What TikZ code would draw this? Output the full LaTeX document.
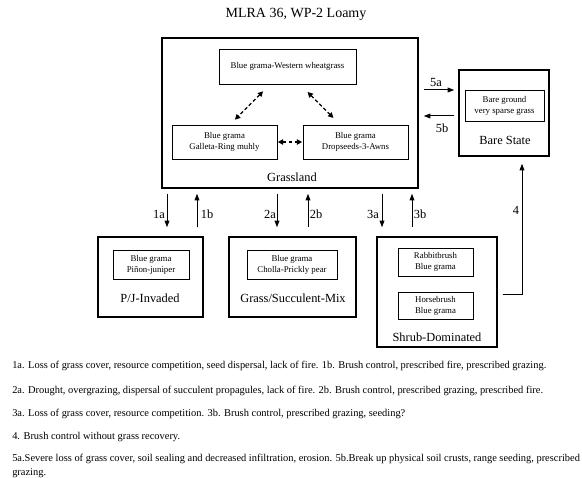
\documentclass[tikz,border=0pt]{standalone}
\usepackage{fontspec}
\setmainfont{Liberation Serif}
\usetikzlibrary{arrows.meta,calc}

\begin{document}
\begin{tikzpicture}[x=0.75pt,y=-0.75pt,
  statebox/.style 2 args={draw, line width=1.1pt, minimum width=#1*0.75pt,
    minimum height=#2*0.75pt, inner sep=0pt},
  innerbox/.style 2 args={draw, line width=0.6pt, minimum width=#1*0.75pt,
    minimum height=#2*0.75pt, inner sep=0pt, align=center,
    font=\fontsize{6.6}{8.3}\selectfont},
  statelabel/.style={inner sep=0pt, font=\fontsize{9.3}{11}\selectfont},
  arrowlabel/.style={inner sep=0pt, font=\fontsize{9.3}{11}\selectfont},
  trans/.style={line width=0.75pt, -{Triangle[length=5pt,width=3.6pt]}},
  dtrans/.style={line width=0.9pt, dash pattern=on 2.6pt off 1.8pt,
    {Triangle[length=4pt,width=4pt]}-{Triangle[length=4pt,width=4pt]}},
  notetext/.style={anchor=west, inner sep=0pt, align=left,
    font=\fontsize{7.82}{10.5}\selectfont}]

\useasboundingbox (0,0) rectangle (582,478);

% title
\node[font=\fontsize{10.5}{12}\selectfont] (title) at (296,14) {MLRA 36, WP-2 Loamy};

% Grassland state with its three communities
\node[statebox={256}{150}] (G) at (290,113) {};
\node[statelabel] (Glab) at (292,177) {Grassland};
\node[innerbox={137}{35}] (T) at (287.5,66.5) {Blue grama-Western wheatgrass};
\node[innerbox={105}{34}] (L) at (224.5,142) {Blue grama\\Galleta-Ring muhly};
\node[innerbox={105}{34}] (R) at (355.5,142) {Blue grama\\Dropseeds-3-Awns};

\draw[dtrans, shorten <=7.3pt, shorten >=5.2pt]
  ($(T.south)+(-17.5,0)$) -- ($(L.north)+(5.5,0)$);
\draw[dtrans, shorten <=8pt, shorten >=7pt]
  ($(T.south)+(12.5,0)$) -- ($(R.north)+(-15.5,0)$);
\draw[dtrans, shorten <=0.3pt, shorten >=0.3pt] (L.east) -- (R.west);

% Bare State
\node[statebox={90}{86}] (B) at (504,113) {};
\node[innerbox={79}{31}] (BI) at (504.5,105.5) {Bare ground\\very sparse grass};
\node[statelabel] (Blab) at (505,140) {Bare State};

% lower states
\node[statebox={105}{80}] (PJ) at (150.5,277) {};
\node[innerbox={76}{29}] (PJI) at (151,264.5) {Blue grama\\Piñon-juniper};
\node[statelabel] (PJlab) at (150,298) {P/J-Invaded};

\node[statebox={127}{80}] (GS) at (292.5,277) {};
\node[innerbox={90}{29}] (GSI) at (292,264.5) {Blue grama\\Cholla-Prickly pear};
\node[statelabel] (GSlab) at (293,298) {Grass/Succulent-Mix};

\node[statebox={120}{110}] (SD) at (437,292) {};
\node[innerbox={75}{28}] (SD1) at (435.5,262) {Rabbitbrush\\Blue grama};
\node[innerbox={75}{27}] (SD2) at (435.5,305.5) {Horsebrush\\Blue grama};
\node[statelabel] (SDlab) at (437,337) {Shrub-Dominated};

% columns and rows of the transition arrows
\coordinate (x1a) at (167,0);
\coordinate (x1b) at (197,0);
\coordinate (x2a) at (277,0);
\coordinate (x2b) at (308,0);
\coordinate (x3a) at (382,0);
\coordinate (x3b) at (412,0);
\coordinate (x4) at (522,0);
\coordinate (y5a) at (0,90);
\coordinate (y5b) at (0,116);
\coordinate (y4) at (0,294);

\draw[trans, shorten <=3.75pt, shorten >=6.75pt] (G.south -| x1a) -- (PJ.north -| x1a);
\draw[trans, shorten <=6.75pt, shorten >=3.75pt] (PJ.north -| x1b) -- (G.south -| x1b);
\draw[trans, shorten <=3.75pt, shorten >=6.75pt] (G.south -| x2a) -- (GS.north -| x2a);
\draw[trans, shorten <=6.75pt, shorten >=3.75pt] (GS.north -| x2b) -- (G.south -| x2b);
\draw[trans, shorten <=3.75pt, shorten >=6.75pt] (G.south -| x3a) -- (SD.north -| x3a);
\draw[trans, shorten <=6.75pt, shorten >=3.75pt] (SD.north -| x3b) -- (G.south -| x3b);

\draw[trans, shorten <=3.75pt, shorten >=3pt] (G.east |- y5a) -- (B.west |- y5a);
\draw[trans, shorten <=3pt, shorten >=3.75pt] (B.west |- y5b) -- (G.east |- y5b);

\draw[trans, shorten <=3.75pt, shorten >=5.25pt] (SD.east |- y4) -| (B.south -| x4);

\node[arrowlabel] (l1a) at (159,214) {1a};
\node[arrowlabel] (l1b) at (207,214) {1b};
\node[arrowlabel] (l2a) at (270,214) {2a};
\node[arrowlabel] (l2b) at (316,214) {2b};
\node[arrowlabel] (l3a) at (373,214) {3a};
\node[arrowlabel] (l3b) at (420,214) {3b};
\node[arrowlabel] (l5a) at (436,83) {5a};
\node[arrowlabel] (l5b) at (442,128) {5b};
\node[arrowlabel] (l4) at (516,210) {4};

% key to the transitions
\node[notetext] (n1) at (12,366) {1a. Loss of grass cover, resource competition, seed dispersal, lack of fire. 1b. Brush control, prescribed fire, prescribed grazing.};
\node[notetext] (n2) at (12,391) {2a. Drought, overgrazing, dispersal of succulent propagules, lack of fire. 2b. Brush control, prescribed grazing, prescribed fire.};
\node[notetext] (n3) at (12,414) {3a. Loss of grass cover, resource competition. 3b. Brush control, prescribed grazing, seeding?};
\node[notetext] (n4) at (12,437) {4. Brush control without grass recovery.};
\node[notetext, anchor=north west] (n5) at (12,454) {5a.Severe loss of grass cover, soil sealing and decreased infiltration, erosion. 5b.Break up physical soil crusts, range seeding, prescribed\\grazing.};

\end{tikzpicture}
\end{document}
